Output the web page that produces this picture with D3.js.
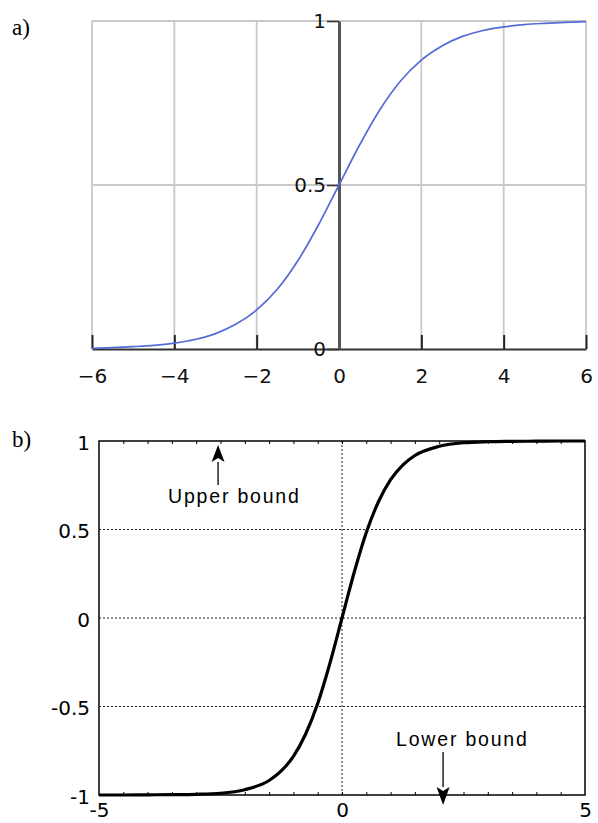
<!DOCTYPE html>
<html>
<head>
<meta charset="utf-8">
<script src="https://cdn.jsdelivr.net/npm/d3@7"></script>
<style>
  body { margin: 0; background: #fff; }
  svg { display: block; }
</style>
</head>
<body>
<svg width="598" height="823"></svg>
<script>
// panel a: logistic curve
var sigX = [-6, -5.5, -5, -4.5, -4, -3.5, -3, -2.5, -2, -1.5, -1, -0.5, 0,
            0.5, 1, 1.5, 2, 2.5, 3, 3.5, 4, 4.5, 5, 5.5, 6];
var sigY = [0.002, 0.004, 0.007, 0.011, 0.018, 0.029, 0.047, 0.076, 0.119, 0.182, 0.269, 0.378, 0.5,
            0.622, 0.731, 0.818, 0.881, 0.924, 0.953, 0.971, 0.982, 0.989, 0.993, 0.996, 0.998];
var ticksAx = [-6, -4, -2, 0, 2, 4, 6];
var ticksAy = [0, 0.5, 1];

// panel b: tanh-like curve
var tanX = [-5, -4.5, -4, -3.5, -3, -2.5, -2, -1.5, -1.25, -1, -0.75, -0.5, -0.25, 0,
            0.25, 0.5, 0.75, 1, 1.25, 1.5, 2, 2.5, 3, 3.5, 4, 4.5, 5];
var tanY = [-1, -1, -0.999, -0.998, -0.996, -0.99, -0.97, -0.918, -0.864, -0.782, -0.657, -0.483, -0.257, 0,
            0.257, 0.483, 0.657, 0.782, 0.864, 0.918, 0.97, 0.99, 0.996, 0.998, 0.999, 1, 1];
var ticksBx = [-5, 0, 5];
var ticksBy = [-1, -0.5, 0, 0.5, 1];
var gridBx = [0];
var gridBy = [-0.5, 0, 0.5];
var minorBx = d3.range(-4.5, 5, 0.5);

var boundLabels = ['Upper bound', 'Lower bound'];
var boundAt = [-2.55, 2.08];
var boundVal = [1, -1];

var svg = d3.select('svg');

// ---------- panel a ----------
var xA = d3.scaleLinear().domain([-6, 6]).range([92, 586]);
var yA = d3.scaleLinear().domain([0, 1]).range([349, 21]);
var gA = svg.append('g');

gA.append('text').text('a)')
  .attr('x', 12).attr('y', 35)
  .attr('font-family', 'Liberation Serif, serif').attr('font-size', 23);

// light grid
gA.selectAll('.vgrid')
    .data(ticksAx.filter(function(d){ return d != 0; }))
  .enter().append('line')
    .attr('x1', function(d){ return xA(d); }).attr('x2', function(d){ return xA(d); })
    .attr('y1', yA(1)).attr('y2', yA(0))
    .attr('stroke', '#c9c9c9').attr('stroke-width', 1.8);
gA.selectAll('.hgrid')
    .data(ticksAy.filter(function(d){ return d != 0; }))
  .enter().append('line')
    .attr('x1', xA(-6)).attr('x2', xA(6))
    .attr('y1', function(d){ return yA(d); }).attr('y2', function(d){ return yA(d); })
    .attr('stroke', '#c9c9c9').attr('stroke-width', 1.8);

// x axis, ticks pointing up
var axA = gA.append('g')
    .attr('transform', 'translate(0,' + yA(0) + ')')
    .call(d3.axisBottom(xA).tickValues(ticksAx).tickSize(-14).tickSizeOuter(0).tickPadding(20));
axA.select('.domain').attr('stroke', '#333').attr('stroke-width', 2);
axA.selectAll('.tick line').attr('stroke', '#222').attr('stroke-width', 2);
axA.selectAll('text').attr('font-family', 'DejaVu Sans').attr('font-size', 20).attr('fill', '#111');

// y axis sitting at x = 0
var ayA = gA.append('g')
    .attr('transform', 'translate(' + xA(0) + ',0)')
    .call(d3.axisLeft(yA).tickValues(ticksAy).tickSize(12).tickSizeOuter(0).tickPadding(1)
          .tickFormat(function(d){ return String(d); }));
ayA.select('.domain').attr('stroke', '#555').attr('stroke-width', 3);
ayA.selectAll('.tick line').attr('stroke', '#333').attr('stroke-width', 1.6);
ayA.selectAll('text').attr('font-family', 'DejaVu Sans').attr('font-size', 20).attr('fill', '#111')
  .attr('dy', '0.3em');

var lineA = d3.line()
    .x(function(d, i){ return xA(sigX[i]); })
    .y(function(d){ return yA(d); })
    .curve(d3.curveMonotoneX);
gA.append('path').datum(sigY)
  .attr('d', lineA)
  .attr('fill', 'none').attr('stroke', '#566bd6').attr('stroke-width', 1.7);

// ---------- panel b ----------
var xB = d3.scaleLinear().domain([-5, 5]).range([99, 585]);
var yB = d3.scaleLinear().domain([-1, 1]).range([795, 441]);
var gB = svg.append('g');

gB.append('text').text('b)')
  .attr('x', 12).attr('y', 447)
  .attr('font-family', 'Liberation Serif, serif').attr('font-size', 23);

// dotted grid
gB.selectAll('.hgrid').data(gridBy)
  .enter().append('line')
    .attr('x1', xB(-5)).attr('x2', xB(5))
    .attr('y1', function(d){ return yB(d); }).attr('y2', function(d){ return yB(d); })
    .attr('stroke', '#222').attr('stroke-width', 1).attr('stroke-dasharray', '2,2');
gB.selectAll('.vgrid').data(gridBx)
  .enter().append('line')
    .attr('x1', function(d){ return xB(d); }).attr('x2', function(d){ return xB(d); })
    .attr('y1', yB(1)).attr('y2', yB(-1))
    .attr('stroke', '#222').attr('stroke-width', 1).attr('stroke-dasharray', '2,2');

// minor ticks along top and bottom
gB.append('g').attr('transform', 'translate(0,' + yB(1) + ')')
  .call(d3.axisBottom(xB).tickValues(minorBx).tickSize(3).tickSizeOuter(0).tickFormat(''))
  .call(function(g){ g.select('.domain').remove(); });
gB.append('g').attr('transform', 'translate(0,' + yB(-1) + ')')
  .call(d3.axisTop(xB).tickValues(minorBx).tickSize(3).tickSizeOuter(0).tickFormat(''))
  .call(function(g){ g.select('.domain').remove(); });

// labels
var bxAxis = gB.append('g').attr('transform', 'translate(0,' + yB(-1) + ')')
  .call(d3.axisBottom(xB).tickValues(ticksBx).tickSize(0).tickPadding(8)
        .tickFormat(function(d){ return String(d); }));
bxAxis.select('.domain').remove();
bxAxis.selectAll('text').attr('font-family', 'DejaVu Sans').attr('font-size', 20).attr('fill', '#000');

var byAxis = gB.append('g').attr('transform', 'translate(' + xB(-5) + ',0)')
  .call(d3.axisLeft(yB).tickValues(ticksBy).tickSize(0).tickPadding(9)
        .tickFormat(function(d){ return String(d); }));
byAxis.select('.domain').remove();
byAxis.selectAll('text').attr('font-family', 'DejaVu Sans').attr('font-size', 20).attr('fill', '#000')
  .attr('dy', '0.42em');

// frame
gB.append('rect')
  .attr('x', xB(-5)).attr('y', yB(1))
  .attr('width', xB(5) - xB(-5)).attr('height', yB(-1) - yB(1))
  .attr('fill', 'none').attr('stroke', '#000').attr('stroke-width', 1.5);

var lineB = d3.line()
    .x(function(d, i){ return xB(tanX[i]); })
    .y(function(d){ return yB(d); })
    .curve(d3.curveMonotoneX);
gB.append('path').datum(tanY)
  .attr('d', lineB)
  .attr('fill', 'none').attr('stroke', '#000').attr('stroke-width', 3.2);

// bound annotations
boundLabels.forEach(function(label, i){
  var ax = xB(boundAt[i]);
  var up = boundVal[i] > 0;
  var tip = up ? yB(1) + 4 : yB(-1) + 10;
  var tail = up ? tip + 40 : tip - 53;
  var head = up ? tip + 17 : tip - 18;
  gB.append('line')
    .attr('x1', ax).attr('x2', ax).attr('y1', tail).attr('y2', head)
    .attr('stroke', '#000').attr('stroke-width', 1.3);
  gB.append('path')
    .attr('d', 'M' + ax + ',' + tip + 'L' + (ax - 6.5) + ',' + head + 'L' + ax + ',' + (head + (up ? -4 : 4)) +
               'L' + (ax + 6.5) + ',' + head + 'Z')
    .attr('fill', '#000');
  gB.append('text').text(label)
    .attr('x', ax + (up ? -50 : -47))
    .attr('y', up ? tail + 18 : tail - 6)
    .attr('font-family', 'Liberation Sans, Arial, sans-serif')
    .attr('font-size', 19.5)
    .attr('letter-spacing', 1.8)
    .attr('fill', '#000');
});
</script>
</body>
</html>
